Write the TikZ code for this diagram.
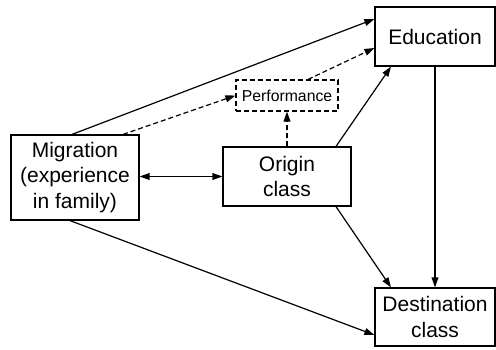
\documentclass[tikz,border=0pt]{standalone}
\usepackage{fontspec}
\setmainfont{Liberation Sans}
\usetikzlibrary{arrows.meta}

\begin{document}
\begin{tikzpicture}
[x=0.5pt,y=-0.5pt,line width=0.6pt,%
  every node/.style={shape=rectangle,draw,inner sep=0pt,align=center,%
    font=\fontsize{10.5}{12.6}\selectfont},%
  box/.style={minimum width=64pt,minimum height=29.5pt},%
  dbox/.style={dashes,minimum width=51pt,minimum height=15.5pt,%
    font=\fontsize{7.9}{9.5}\selectfont},%
  dashes/.style={dash pattern=on 2.5pt off 1.5pt},%
  >={Triangle[length=5pt,width=3.4pt]}]
\useasboundingbox (0,0) rectangle (496,349);
\node[box,minimum width=60pt] (edu) at (435,36.5) {Education};
\node[box,minimum width=60pt,minimum height=29pt] (dest) at (435,317) {Destination\\class};
\node[box,minimum height=42.5pt] (mig) at (75,177.5) {Migration\\(experience\\in family)};
\node[box] (orig) at (287,176.5) {Origin\\class};
\node[dbox] (perf) at (287,95.5) {Performance};
% solid paths
\draw[->] ([xshift=-1.5pt]mig.north) -- ([yshift=8.75pt]edu.west);
\draw[->] ([xshift=-2.5pt]mig.south) -- ([yshift=-9pt]dest.west);
\draw[<->] (orig.west -| mig.east) -- (orig.west);
\draw[->] ([xshift=24.5pt]orig.north) -- ([xshift=-22pt]edu.south);
\draw[->] ([xshift=24.5pt]orig.south) -- ([xshift=-22pt]dest.north);
\draw[->] (edu.south) -- (dest.north);
% dashed paths
\draw[->,dashes] ([xshift=24pt]mig.north) -- (perf.west);
\draw[->,dashes] ([xshift=10.5pt]perf.north) -- ([yshift=-5.75pt]edu.west);
\draw[->,dashes] (orig.north) -- (perf.south);
\end{tikzpicture}
\end{document}
